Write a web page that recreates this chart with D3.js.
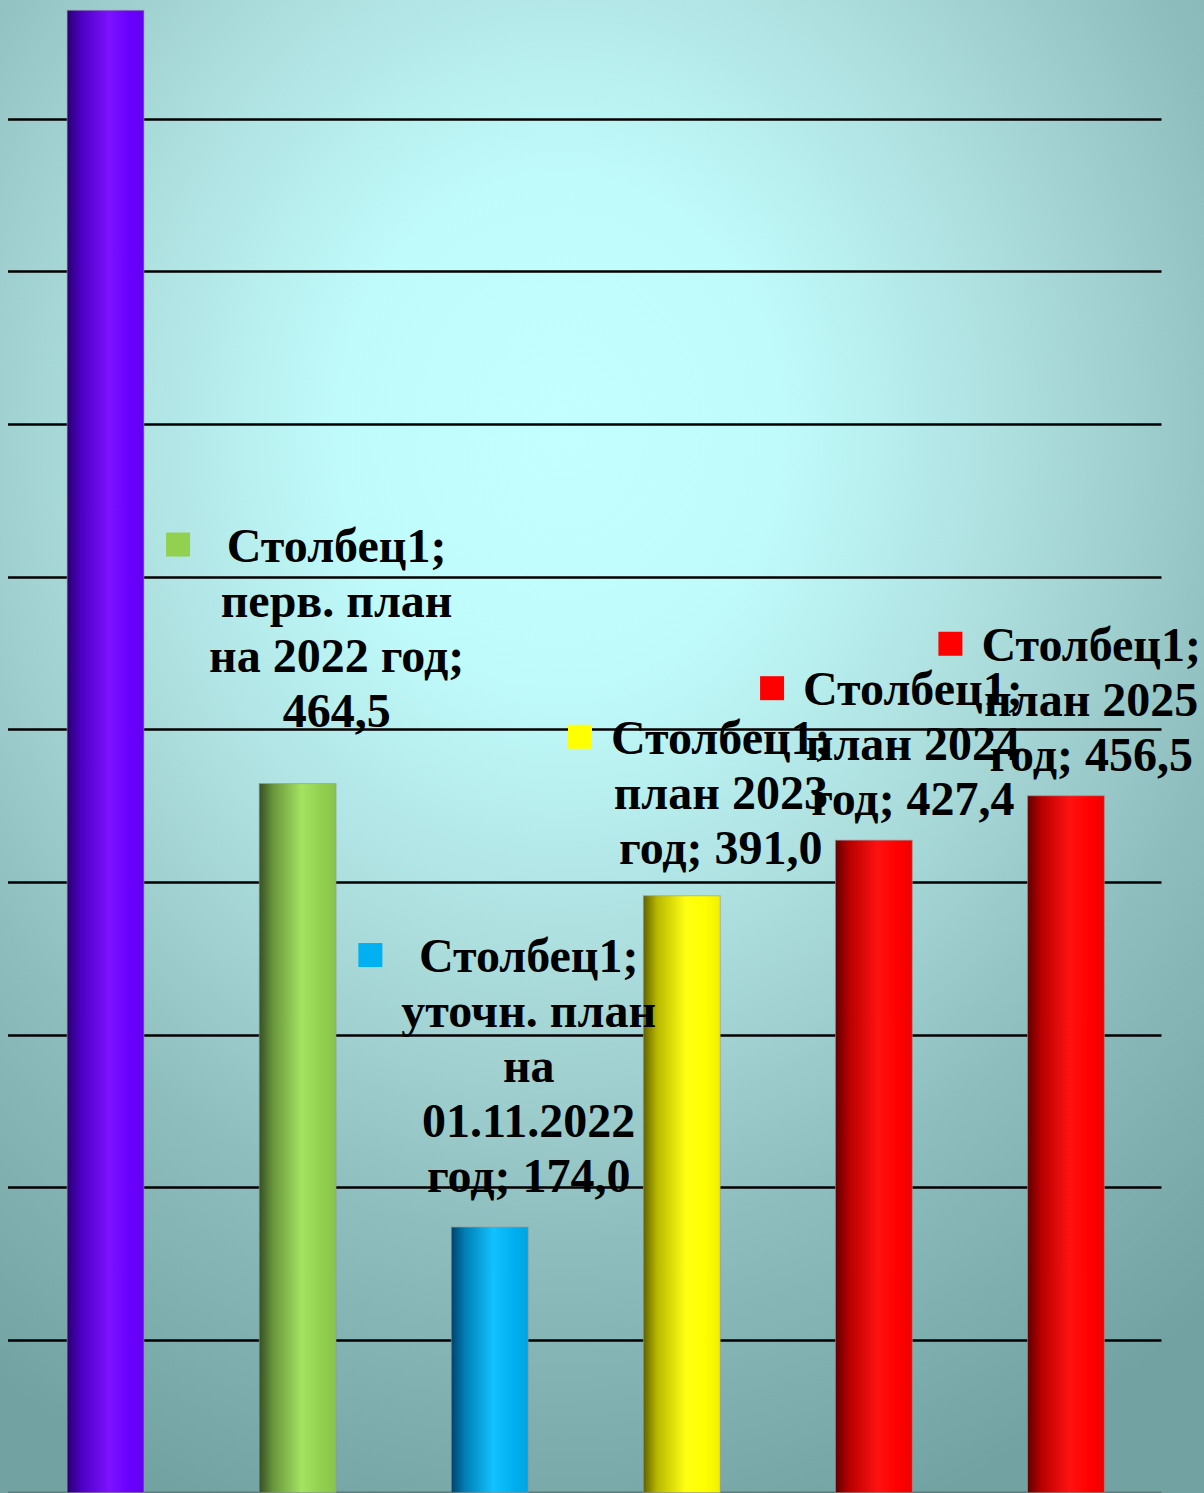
<!DOCTYPE html>
<html>
<head>
<meta charset="utf-8">
<script src="https://cdn.jsdelivr.net/npm/d3@7/dist/d3.min.js"></script>
<style>
  html, body { margin: 0; padding: 0; background: #8fbebe; }
  svg { display: block; }
</style>
</head>
<body>
<svg id="chart" width="1204" height="1493"></svg>
<script>
// ---- data ----
const seriesName = "Столбец1";
const categories = ["", "перв. план на 2022 год", "уточн. план на 01.11.2022 год", "план 2023 год", "план 2024 год", "план 2025 год"];
const values = [971, 464.5, 174.0, 391.0, 427.4, 456.5];
const barColors = ["#6a00ff", "#92d050", "#00b0f0", "#ffff00", "#ff0000", "#ff0000"];
const gridTicks = [100, 200, 300, 400, 500, 600, 700, 800, 900];
// label text lines ("{v}" = formatted value); first bar has no visible label
const labelLines = [
  null,
  ["перв. план", "на 2022 год;", "{v}"],
  ["уточн. план", "на", "01.11.2022", "год; {v}"],
  ["план 2023", "год; {v}"],
  ["план 2024", "год; {v}"],
  ["план 2025", "год; {v}"]
];

// ---- layout ----
const W = 1204, H = 1493;
const svg = d3.select("#chart");
const defs = svg.append("defs");

const bg = defs.append("radialGradient").attr("id", "bg")
  .attr("gradientUnits", "userSpaceOnUse")
  .attr("cx", 560).attr("cy", 430).attr("r", 1000)
  .attr("gradientTransform", "translate(560,430) scale(1,1.15) translate(-560,-430)");
[[0, "#c4ffff"], [0.22, "#c0fbfb"], [0.45, "#aedfdf"], [0.7, "#8fbebe"], [1, "#72a2a2"]]
  .forEach(([o, c]) => bg.append("stop").attr("offset", o).attr("stop-color", c));
svg.append("rect").attr("width", W).attr("height", H).attr("fill", "url(#bg)");

const x = d3.scaleBand().domain(d3.range(values.length)).range([9.5, 1162]).paddingInner(0.6).paddingOuter(0.3);
const y = d3.scaleLinear().domain([0, 1000]).range([1492.7, -34]);

// gridlines
svg.append("g").selectAll("line").data(gridTicks).join("line")
  .attr("x1", 8).attr("x2", 1161.5)
  .attr("y1", d => Math.round(y(d)) + 0.5).attr("y2", d => Math.round(y(d)) + 0.5)
  .attr("stroke", "#000").attr("stroke-width", 2.4);

// base line
svg.append("line").attr("x1", 8).attr("x2", 1161.5).attr("y1", y(0) - 0.5).attr("y2", y(0) - 0.5)
  .attr("stroke", "#5f7a7a").attr("stroke-width", 1.5);

// bar gradients (cylinder look)
barColors.forEach((c, i) => {
  const base = d3.rgb(c);
  const g = defs.append("linearGradient").attr("id", "bar" + i).attr("x1", 0).attr("x2", 1).attr("y1", 0).attr("y2", 0);
  const dark = d3.rgb(base.r * 0.38, base.g * 0.38, base.b * 0.45);
  const light = d3.rgb(Math.min(255, base.r + 18), Math.min(255, base.g + 18), Math.min(255, base.b + 18));
  const right = d3.rgb(base.r * 0.94, base.g * 0.94, base.b * 0.94);
  [[0, dark], [0.18, d3.interpolateRgb(dark, base)(0.55)], [0.55, light], [0.8, base], [1, right]]
    .forEach(([o, col]) => g.append("stop").attr("offset", o).attr("stop-color", col));
});

svg.append("g").selectAll("rect").data(values).join("rect")
  .attr("x", (d, i) => x(i))
  .attr("width", x.bandwidth())
  .attr("y", d => y(d))
  .attr("height", d => y(0) - y(d))
  .attr("fill", (d, i) => `url(#bar${i})`)
  .attr("stroke", "rgba(150,150,150,0.6)").attr("stroke-width", 1);

// data labels
const fmt = v => d3.format(".1f")(v).replace(".", ",");
const lineH = 55;
const nudge = [0, -27, -5, -2, 5, 5]; // fine vertical adjustment of label blocks
const labelG = svg.append("g")
  .attr("font-family", "'Liberation Serif', 'Times New Roman', serif")
  .attr("font-weight", "bold").attr("font-size", 48).attr("fill", "#000");

values.forEach((v, i) => {
  if (!labelLines[i]) return;
  const lines = [seriesName + ";"].concat(labelLines[i].map(s => s.replace("{v}", fmt(v))));
  const g = labelG.append("g");
  const texts = g.selectAll("text").data(lines).join("text")
    .attr("text-anchor", "middle").text(d => d);
  const widest = d3.max(texts.nodes(), n => n.getComputedTextLength());
  let cx = x(i) + x.bandwidth() / 2 + 39;
  if (cx + widest / 2 > W - 3) cx = W - 3 - widest / 2;
  const firstBase = y(v) - (lines.length - 1) * lineH - 30 + nudge[i];
  texts.attr("x", cx).attr("y", (d, k) => firstBase + k * lineH);
  g.append("rect")
    .attr("x", cx - widest / 2 - 43).attr("y", firstBase - 29)
    .attr("width", 24).attr("height", 24)
    .attr("fill", barColors[i]);
});
</script>
</body>
</html>
